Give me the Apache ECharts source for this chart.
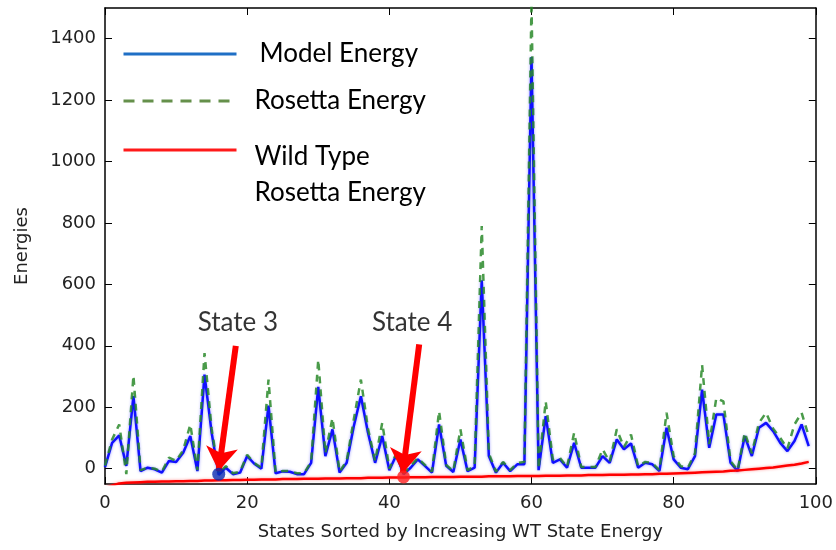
<!DOCTYPE html>
<html><head><meta charset="utf-8">
<script src="https://cdn.jsdelivr.net/npm/echarts@6/dist/echarts.min.js"></script>
<style>html,body{margin:0;padding:0;background:#fff}#c{width:836px;height:550px}</style>
</head><body><div id="c"></div>
<script>
// Energies per state (index = state, sorted by increasing WT state energy)
const modelEnergy = [5,84,108,9,236,-8,3,-2,-13,25,22,52,106,-8,306,117,-20,3,-18,-13,
  41,16,0,205,-15,-9,-10,-18,-18,19,266,41,128,-13,19,138,236,117,19,106,
  -5,45,-18,3,30,9,-13,144,9,-11,95,-8,3,613,41,-13,19,-8,14,14,
  1340,-5,171,19,30,3,84,3,3,3,41,19,95,63,82,3,19,14,-8,133,
  30,3,-2,41,257,68,176,176,19,-8,106,41,133,149,122,84,57,90,144,73];
const rosettaEnergy = [10,95,144,-18,303,-5,3,0,-10,36,25,60,144,-5,376,130,-15,8,-15,-10,
  45,18,3,290,-12,-8,-8,-15,-15,22,355,50,165,-10,25,160,290,130,25,149,
  0,50,-15,8,35,12,-10,187,12,-8,128,-5,8,790,50,-10,22,-5,18,22,
  1520,0,219,30,35,5,117,5,5,5,63,22,128,70,111,8,22,18,-5,182,
  40,8,3,50,338,80,230,219,25,-5,117,50,149,182,130,100,65,144,182,106];
const wildTypeEnergy = [-62,-55,-48,-46,-45,-44,-43,-43,-42,-42,-41,-41,-40,-40,-39,-39,-38,-38,-37,-37,
  -36,-36,-35,-35,-35,-34,-34,-34,-33,-33,-33,-32,-32,-32,-31,-31,-31,-30,-30,-30,
  -29,-29,-29,-28,-28,-28,-27,-27,-27,-27,-26,-26,-26,-26,-25,-25,-25,-25,-24,-24,
  -24,-24,-23,-23,-23,-22,-22,-22,-21,-21,-21,-20,-20,-20,-19,-19,-18,-18,-17,-17,
  -16,-15,-14,-13,-12,-11,-10,-9,-7,-6,-4,-2,0,2,4,7,10,13,17,22];
const yTicks = [0,200,400,600,800,1000,1200,1400];
const xTicks = [0,20,40,60,80,100];
const stateMarkers = [[16,-18],[42,-27]];
const stateLabels = ['State 3','State 4'];
const labelPos = [[18.7,477],[43.2,477]];
const arrows = [[[18.4,400],[16.0,-8]],[[44.2,405],[41.9,-14]]];

const toPairs = arr => arr.map((v,i)=>[i,v]);
const chart = echarts.init(document.getElementById('c'));
const tickFont = {fontFamily:'DejaVu Sans', fontSize:18, color:'#222'};
const axisLineStyle = {color:'#000', width:1.5};
const legendText = {fontFamily:'Lato', fontSize:26, lineHeight:30, color:'#000'};
const hideSym = {opacity:0};
chart.setOption({
  animation:false,
  grid:{left:105, right:18, top:8, bottom:66, containLabel:false},
  xAxis:[
    {type:'value', min:0, max:100, interval:20, position:'bottom',
     axisLine:{show:true, onZero:false, lineStyle:axisLineStyle},
     axisTick:{show:true, inside:true, length:7, lineStyle:{color:'#000', width:1}},
     axisLabel:Object.assign({margin:10, customValues:xTicks, formatter:v=>String(v)}, tickFont),
     splitLine:{show:false},
     name:'States Sorted by Increasing WT State Energy', nameLocation:'middle', nameGap:39,
     nameTextStyle:{fontFamily:'DejaVu Sans', fontSize:18, color:'#222'}},
    {type:'value', min:0, max:100, interval:20, position:'top',
     axisLine:{show:true, onZero:false, lineStyle:axisLineStyle},
     axisTick:{show:true, inside:true, length:7, lineStyle:{color:'#000', width:1}},
     axisLabel:{show:false}, splitLine:{show:false}}
  ],
  yAxis:[
    {type:'value', min:-50, max:1500, position:'left',
     axisLine:{show:true, onZero:false, lineStyle:axisLineStyle},
     axisTick:{show:true, inside:true, length:7, customValues:yTicks, lineStyle:{color:'#000', width:1}},
     axisLabel:Object.assign({margin:9, customValues:yTicks, formatter:v=>String(v)}, tickFont),
     splitLine:{show:false},
     name:'Energies', nameLocation:'middle', nameGap:74, nameRotate:90,
     nameTextStyle:{fontFamily:'DejaVu Sans', fontSize:18, color:'#222'}},
    {type:'value', min:-50, max:1500, position:'right',
     axisLine:{show:true, onZero:false, lineStyle:axisLineStyle},
     axisTick:{show:true, inside:true, length:7, customValues:yTicks, lineStyle:{color:'#000', width:1}},
     axisLabel:{show:false}, splitLine:{show:false}}
  ],
  legend:[
    {data:[{name:'Model Energy', itemStyle:hideSym, lineStyle:{color:'#1f6fc5', width:3, type:'solid'}}],
     left:122, top:39, padding:0, itemWidth:113, itemHeight:14, selectedMode:false,
     textStyle:Object.assign({padding:[0,0,0,18]}, legendText)},
    {data:[{name:'Rosetta Energy', itemStyle:hideSym, lineStyle:{color:'#4a7c2b', width:3, type:[11,8]}}],
     left:122, top:86, padding:0, itemWidth:113, itemHeight:14, selectedMode:false,
     textStyle:Object.assign({padding:[0,0,0,13]}, legendText)},
    {data:[{name:'Wild Type Rosetta Energy', itemStyle:hideSym, lineStyle:{color:'#ff1a1a', width:3, type:'solid'}}],
     left:122, top:89, padding:0, itemWidth:113, itemHeight:14, selectedMode:false,
     formatter:()=> '{s| }\n{t|Wild Type}\n{t|Rosetta Energy}',
     textStyle:Object.assign({}, legendText, {padding:[0,0,0,13],
       rich:{s:{lineHeight:50, height:50, fontSize:10},
             t:{fontFamily:'Lato', fontSize:26, lineHeight:36, color:'#000'}}})}
  ],
  series:[
    {name:'Model Energy', type:'line', data:toPairs(modelEnergy), symbol:'none', z:3,
     lineStyle:{color:'#1010ff', width:2.5, shadowColor:'rgba(80,80,255,0.6)', shadowBlur:3}},
    {name:'Rosetta Energy', type:'line', data:toPairs(rosettaEnergy), symbol:'none', z:4,
     lineStyle:{color:'#2a8a2a', width:2.5, type:[7,6], opacity:0.85}},
    {name:'Wild Type Rosetta Energy', type:'line', data:toPairs(wildTypeEnergy), symbol:'none', z:5,
     lineStyle:{color:'#ff0000', width:2.5, shadowColor:'rgba(255,80,80,0.6)', shadowBlur:3}},
    {name:'markers', type:'scatter', z:6, symbolSize:13,
     data:[{value:stateMarkers[0], itemStyle:{color:'#0a2bb0'}}, {value:stateMarkers[1], itemStyle:{color:'#ff2020'}}]},
    {name:'annotations', type:'scatter', z:7, symbolSize:0, silent:true,
     data:labelPos.map((p,k)=>({value:p, name:stateLabels[k]})),
     label:{show:true, position:'inside', formatter:p=>p.name, fontFamily:'Lato', fontSize:26,
       color:'#000', textBorderWidth:0},
     markLine:{silent:true, symbol:['none','arrow'], symbolSize:24,
       lineStyle:{color:'#ff0000', width:6, type:'solid'}, label:{show:false},
       emphasis:{disabled:true},
       data:arrows.map(a=>[{coord:a[0]},{coord:a[1]}])}}
  ]
});
</script></body></html>
